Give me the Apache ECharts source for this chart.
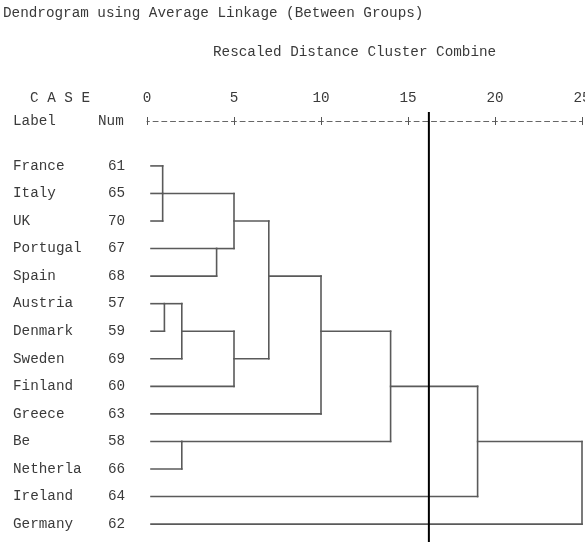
<!DOCTYPE html>
<html><head><meta charset="utf-8">
<script src="https://cdn.jsdelivr.net/npm/echarts@6/dist/echarts.min.js"></script>
<style>html,body{margin:0;padding:0;background:#fff}#c{width:585px;height:542px}</style>
</head><body><div id="c"></div>
<script>
// ---- data ----
const cases = ['France','Italy','UK','Portugal','Spain','Austria','Denmark','Sweden','Finland','Greece','Be','Netherla','Ireland','Germany'];
const caseNums = [61,65,70,67,68,57,59,69,60,63,58,66,64,62];
// children: leaf index (number) or merge id ('m'+index)
const mergeChildren = [[0,1,2],[3,4],['m0','m1'],[5,6],['m3',7],['m4',8],['m2','m5'],['m6',9],[10,11],['m7','m8'],['m9',12],['m10',13]];
const mergeHeights  = [0.9, 4.0, 5.0, 1.0, 2.0, 5.0, 7.0, 10.0, 2.0, 14.0, 19.0, 25.0];
const mergeOutRows  = [1, 3, 2, 5, 6, 7, 4, 6, 10, 8, 10, null];
const tickLabels = ['0','5','10','15','20','25'];
const cutDistance = 16.2;
const leafStart = 0.23;

const FS = 14.3;
const FONT = '"Liberation Mono", "DejaVu Sans Mono", monospace';
const TXT = '#3a3a3a';
const LINE = '#5a5a5a';

function nodeInfo(ref){
  if (typeof ref === 'number') return {x: leafStart, row: ref};
  const i = +ref.slice(1);
  return {x: mergeHeights[i], row: mergeOutRows[i]};
}
const segments = [];
mergeChildren.forEach((ch, i) => {
  const h = mergeHeights[i];
  const rows = ch.map(c => nodeInfo(c).row);
  segments.push([h, Math.min(...rows), h, Math.max(...rows)]);
  ch.forEach(c => { const n = nodeInfo(c); segments.push([n.x, n.row, h, n.row]); });
});
const labelData = cases.map((c, i) => [0, i, c, caseNums[i]]);

const chart = echarts.init(document.getElementById('c'), null, {renderer: 'canvas'});
const axisBase = {
  type: 'value', position: 'top', min: 0, max: 25, interval: 5, offset: 0,
  splitLine: {show: false}
};
const txtStyle = s => ({text: s, font: FS + 'px ' + FONT, fill: TXT, verticalAlign: 'middle', textVerticalAlign: 'middle'});
chart.setOption({
  animation: false,
  backgroundColor: '#fff',
  title: [
    {text: 'Dendrogram using Average Linkage (Between Groups)', left: 3, top: 6, padding: 0,
     textStyle: {fontFamily: FONT, fontSize: FS, fontWeight: 'normal', color: TXT}},
    {text: 'Rescaled Distance Cluster Combine', left: 213, top: 45, padding: 0,
     textStyle: {fontFamily: FONT, fontSize: FS, fontWeight: 'normal', color: TXT}}
  ],
  grid: {left: 147, right: 3, top: 121, bottom: 0, containLabel: false, outerBoundsMode: 'none'},
  xAxis: [
    Object.assign({}, axisBase, {
      axisLine: {show: true, onZero: false, lineStyle: {color: '#666', width: 1, type: [5, 3.7], dashOffset: 2.6}},
      axisTick: {show: true, length: 4, lineStyle: {color: '#555', width: 1}},
      axisLabel: {show: true, margin: 16, fontFamily: FONT, fontSize: FS, color: TXT,
        formatter: v => tickLabels[Math.round(v / 5)] ?? ''}
    }),
    Object.assign({}, axisBase, {
      axisLine: {show: false, onZero: false},
      axisTick: {show: true, inside: true, length: 4, lineStyle: {color: '#555', width: 1}},
      axisLabel: {show: false}
    })
  ],
  yAxis: {type: 'value', inverse: true, min: -1.63, max: 13.65, show: false},
  graphic: [
    {type: 'text', x: 30, y: 98, style: txtStyle('C A S E')},
    {type: 'text', x: 13, y: 121, style: txtStyle('Label')},
    {type: 'text', x: 98, y: 121, style: txtStyle('Num')}
  ],
  series: [
    {
      type: 'custom', name: 'links', coordinateSystem: 'cartesian2d', clip: false,
      encode: {x: [0, 2], y: [1, 3]},
      data: segments,
      renderItem: (params, api) => {
        const p1 = api.coord([api.value(0), api.value(1)]);
        const p2 = api.coord([api.value(2), api.value(3)]);
        return {type: 'line', shape: {x1: p1[0], y1: p1[1], x2: p2[0], y2: p2[1]},
                style: {stroke: LINE, lineWidth: 1.6, lineCap: 'square'}};
      }
    },
    {
      type: 'custom', name: 'labels', coordinateSystem: 'cartesian2d', clip: false,
      encode: {x: 0, y: 1},
      data: labelData,
      renderItem: (params, api) => {
        const p = api.coord([0, api.value(1)]);
        const item = labelData[params.dataIndex];
        return {type: 'group', children: [
          {type: 'text', x: 13, y: p[1], style: txtStyle(item[2])},
          {type: 'text', x: 108, y: p[1], style: txtStyle(String(item[3]))}
        ]};
      }
    },
    {
      type: 'line', name: 'cut', clip: false, symbol: 'none', silent: true,
      data: [[cutDistance, -1.96], [cutDistance, 13.65]],
      lineStyle: {color: '#000', width: 2}
    }
  ]
});
</script></body></html>
